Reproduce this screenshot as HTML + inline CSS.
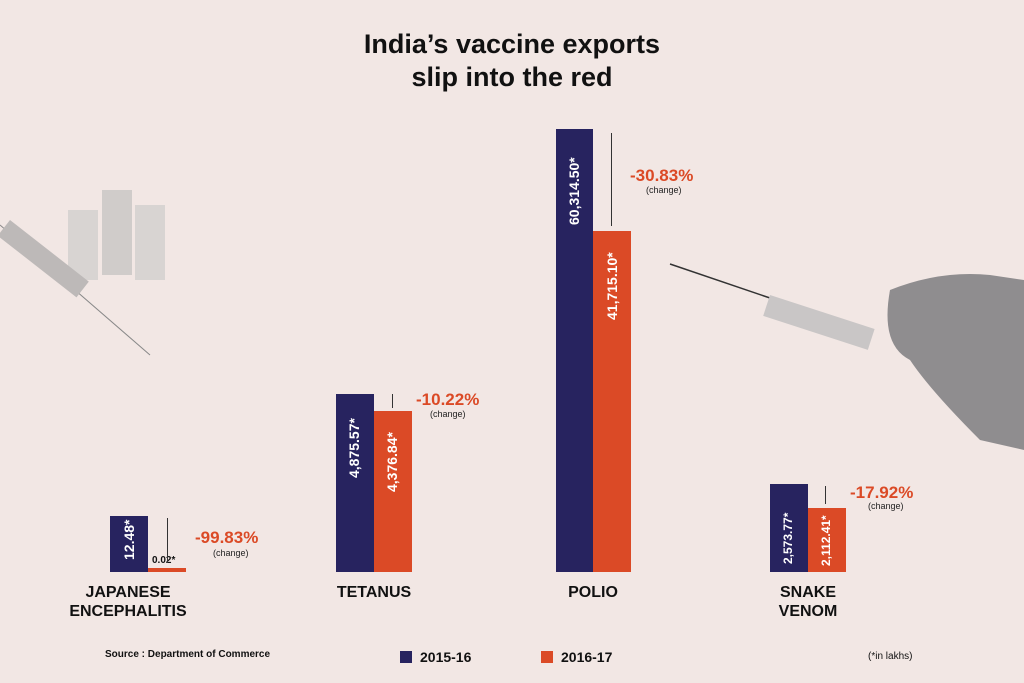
<!DOCTYPE html>
<html><head><meta charset="utf-8"><style>
body{margin:0}
#c{position:relative;width:1024px;height:683px;background:#f2e7e4;overflow:hidden;font-family:"Liberation Sans",sans-serif}
.b{position:absolute}
.bl{background:#27235f}
.or{background:#db4a26}
.v{position:absolute;color:#fff;font-weight:bold;font-size:14px;transform:rotate(-90deg);transform-origin:left top;white-space:nowrap}
.pct{position:absolute;color:#db4a26;font-weight:bold;font-size:17px}
.chg{position:absolute;font-size:9px;color:#222}
.lab{position:absolute;font-weight:bold;font-size:16px;color:#111;text-align:center;line-height:19px}
.arr{position:absolute;width:1px;background:#333}
</style></head><body><div id="c">
<div style="position:absolute;top:28px;width:1024px;text-align:center;font-weight:bold;font-size:27px;line-height:33px;color:#111">India’s vaccine exports<br>slip into the red</div>

<!-- decorative hand -->
<svg class="b" style="left:660px;top:250px" width="364" height="200"><line x1="10" y1="14" x2="110" y2="48" stroke="#333" stroke-width="1.5"/><rect x="110" y="45" width="110" height="22" fill="#c9c6c6" transform="rotate(18 110 45)"/><path d="M230 40 Q280 20 330 25 L364 30 L364 200 L320 190 Q270 140 250 110 Q220 95 230 40Z" fill="#8f8d8f"/></svg>
<svg class="b" style="left:0;top:170px" width="180" height="190"><rect x="68" y="40" width="30" height="70" fill="#d8d4d2"/><rect x="102" y="20" width="30" height="85" fill="#d0ccca"/><rect x="135" y="35" width="30" height="75" fill="#d8d4d2"/><line x1="0" y1="55" x2="150" y2="185" stroke="#888" stroke-width="1"/><rect x="10" y="50" width="100" height="20" fill="#bdb9b8" transform="rotate(38 10 50)"/></svg>

<!-- JE -->
<div class="b bl" style="left:110px;top:516px;width:38px;height:56px"></div>
<div class="b or" style="left:148px;top:568px;width:38px;height:4px"></div>
<div class="v" style="left:121px;top:560px">12.48*</div>
<div class="b" style="left:152px;top:555px;font-size:10px;font-weight:bold;color:#111">0.02*</div>
<div class="arr" style="left:167px;top:518px;height:45px"></div>
<div class="pct" style="left:195px;top:528px">-99.83%</div><div class="chg" style="left:213px;top:548px">(change)</div>
<div class="lab" style="left:58px;top:583px;width:140px">JAPANESE<br>ENCEPHALITIS</div>

<!-- Tetanus -->
<div class="b bl" style="left:336px;top:394px;width:38px;height:178px"></div>
<div class="b or" style="left:374px;top:411px;width:38px;height:161px"></div>
<div class="v" style="left:346px;top:478px">4,875.57*</div>
<div class="v" style="left:384px;top:492px">4,376.84*</div>
<div class="arr" style="left:392px;top:394px;height:14px"></div>
<div class="pct" style="left:416px;top:390px">-10.22%</div><div class="chg" style="left:430px;top:409px">(change)</div>
<div class="lab" style="left:314px;top:583px;width:120px">TETANUS</div>

<!-- Polio -->
<div class="b bl" style="left:556px;top:129px;width:37px;height:443px"></div>
<div class="b or" style="left:593px;top:231px;width:38px;height:341px"></div>
<div class="v" style="left:566px;top:225px">60,314.50*</div>
<div class="v" style="left:604px;top:320px">41,715.10*</div>
<div class="arr" style="left:611px;top:133px;height:93px"></div>
<div class="pct" style="left:630px;top:166px">-30.83%</div><div class="chg" style="left:646px;top:185px">(change)</div>
<div class="lab" style="left:533px;top:583px;width:120px">POLIO</div>

<!-- Snake -->
<div class="b bl" style="left:770px;top:484px;width:38px;height:88px"></div>
<div class="b or" style="left:808px;top:508px;width:38px;height:64px"></div>
<div class="v" style="left:781px;top:564px;font-size:12px">2,573.77*</div>
<div class="v" style="left:819px;top:566px;font-size:12px">2,112.41*</div>
<div class="arr" style="left:825px;top:486px;height:18px"></div>
<div class="pct" style="left:850px;top:483px">-17.92%</div><div class="chg" style="left:868px;top:501px">(change)</div>
<div class="lab" style="left:748px;top:583px;width:120px">SNAKE<br>VENOM</div>

<!-- footer -->
<div class="b" style="left:105px;top:649px;font-size:10px;font-weight:bold;color:#111">Source : Department of Commerce</div>
<div class="b bl" style="left:400px;top:651px;width:12px;height:12px"></div>
<div class="b" style="left:420px;top:649px;font-size:14px;font-weight:bold;color:#111">2015-16</div>
<div class="b or" style="left:541px;top:651px;width:12px;height:12px"></div>
<div class="b" style="left:561px;top:649px;font-size:14px;font-weight:bold;color:#111">2016-17</div>
<div class="b" style="left:868px;top:651px;font-size:10px;color:#111">(*in lakhs)</div>
</div></body></html>
